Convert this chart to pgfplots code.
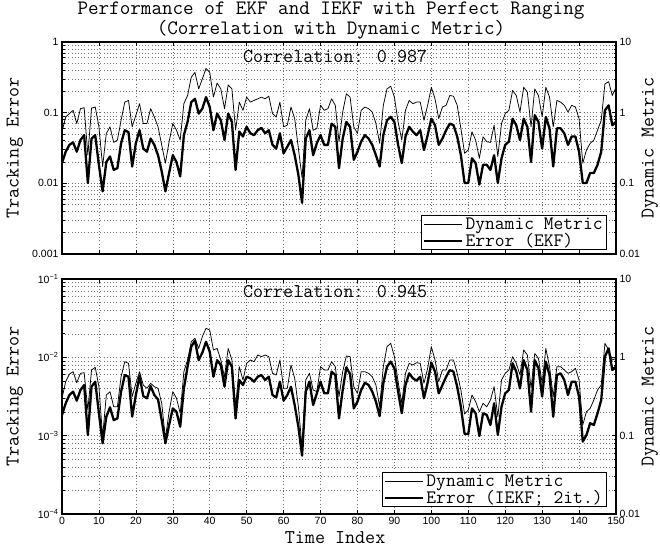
\documentclass[border=0pt]{standalone}
\usepackage{fontspec}
\setmainfont{Liberation Sans}
\usepackage{pgfplots}
\usepackage{pgfplotstable}
\pgfplotsset{compat=1.18}

\pgfplotstableread{
t err met
0 0.0193 0.536
1 0.028 0.870
2 0.035 0.968
3 0.038 1.08
4 0.028 0.701
5 0.041 1.14
6 0.048 1.175
7 0.0101 0.252
8 0.043 1.16
9 0.048 1.20
10 0.018 0.63
11 0.0077 0.173
12 0.020 0.508
13 0.024 0.63
14 0.0155 0.379
15 0.0164 0.409
16 0.037 0.781
17 0.0565 1.41
18 0.053 1.49
19 0.0173 0.63
20 0.037 0.918
21 0.0565 1.34
22 0.031 0.701
23 0.028 0.701
24 0.043 1.14
25 0.035 0.87
26 0.025 0.63
27 0.0147 0.348
28 0.0077 0.193
29 0.014 0.388
30 0.025 0.701
31 0.020 0.565
32 0.0125 0.409
33 0.048 1.34
34 0.074 1.75
35 0.141 3.16
36 0.157 3.72
37 0.097 2.17
38 0.114 3.0
39 0.166 4.23
40 0.120 3.72
41 0.0565 1.66
42 0.097 2.63
43 0.078 2.17
44 0.041 1.14
45 0.097 2.47
46 0.074 2.17
47 0.0155 0.565
48 0.054 1.41
49 0.046 1.08
50 0.063 1.66
51 0.051 1.41
52 0.048 1.49
53 0.0565 1.57
54 0.061 1.66
55 0.051 1.57
56 0.0565 1.71
57 0.035 0.968
58 0.031 0.87
59 0.051 1.41
60 0.0266 0.63
61 0.033 0.665
62 0.041 1.20
63 0.025 0.824
64 0.0132 0.313
65 0.0053 0.119
66 0.043 0.781
67 0.0565 1.14
68 0.025 0.565
69 0.037 0.597
70 0.048 1.27
71 0.035 1.08
72 0.035 1.14
73 0.070 1.57
74 0.063 1.27
75 0.0164 0.388
76 0.043 1.02
77 0.074 1.85
78 0.063 1.66
79 0.0215 0.63
80 0.028 0.508
81 0.039 1.08
82 0.048 1.20
83 0.043 1.14
84 0.035 1.02
85 0.025 0.701
86 0.0173 0.368
87 0.048 1.27
88 0.078 2.17
89 0.087 2.37
90 0.074 1.66
91 0.035 0.74
92 0.0193 0.409
93 0.046 1.08
94 0.063 1.49
95 0.054 1.34
96 0.048 1.41
97 0.0565 1.41
98 0.0296 0.781
99 0.048 1.27
100 0.082 2.29
101 0.0665 1.57
102 0.035 0.824
103 0.043 1.20
104 0.0565 1.27
105 0.070 1.75
106 0.0665 1.71
107 0.046 1.27
108 0.025 0.597
109 0.0101 0.266
110 0.0101 0.296
111 0.0226 0.536
112 0.0193 0.409
113 0.0096 0.226
114 0.0183 0.456
115 0.0183 0.388
116 0.0155 0.379
117 0.025 0.665
118 0.0101 0.239
119 0.0226 0.701
120 0.035 0.968
121 0.039 1.08
122 0.082 2.06
123 0.0665 1.75
124 0.041 1.02
125 0.082 2.29
126 0.063 1.95
127 0.020 0.63
128 0.092 2.17
129 0.074 1.75
130 0.031 0.87
131 0.087 2.29
132 0.060 1.66
133 0.0173 0.63
134 0.060 1.49
135 0.060 1.41
136 0.051 1.27
137 0.035 1.02
138 0.046 1.27
139 0.046 1.20
140 0.028 0.824
141 0.0101 0.193
142 0.0101 0.296
143 0.014 0.368
144 0.014 0.409
145 0.0183 0.565
146 0.028 0.781
147 0.108 2.55
148 0.127 2.75
149 0.0665 1.75
150 0.074 2.29
}\topdata

\pgfplotstableread{
t err met
0 0.00184 0.300
1 0.00259 0.489
2 0.00330 0.61
3 0.00365 0.656
4 0.0028 0.475
5 0.00383 0.625
6 0.00443 0.637
7 0.00102 0.212
8 0.00422 0.689
9 0.00489 0.745
10 0.00193 0.422
11 0.00080 0.097
12 0.00175 0.330
13 0.0023 0.365
14 0.00158 0.234
15 0.00166 0.234
16 0.00365 0.566
17 0.00594 0.88
18 0.00566 0.838
19 0.00175 0.315
20 0.0033 0.466
21 0.00578 0.656
22 0.0032 0.443
23 0.0030 0.402
24 0.0043 0.466
25 0.0033 0.422
26 0.0029 0.402
27 0.00158 0.259
28 0.00080 0.0925
29 0.00137 0.202
30 0.00223 0.365
31 0.00202 0.30
32 0.0013 0.193
33 0.0040 0.656
34 0.0076 0.925
35 0.0137 1.585
36 0.0163 1.75
37 0.0092 1.30
38 0.0115 1.84
39 0.0158 2.35
40 0.0118 2.23
41 0.00566 1.24
42 0.0092 1.30
43 0.00798 0.925
44 0.00422 0.566
45 0.0092 1.30
46 0.0076 0.925
47 0.00166 0.234
48 0.00514 0.76
49 0.00443 0.514
50 0.00566 0.838
51 0.0054 0.925
52 0.00489 0.88
53 0.00566 1.07
54 0.00594 1.02
55 0.00514 1.07
56 0.00566 1.02
57 0.0033 0.625
58 0.00308 0.595
59 0.00489 0.925
60 0.0028 0.402
61 0.0033 0.402
62 0.00422 0.798
63 0.00246 0.54
64 0.0013 0.234
65 0.000556 0.072
66 0.00365 0.514
67 0.00489 0.625
68 0.00246 0.383
69 0.00347 0.365
70 0.00489 0.76
71 0.00347 0.689
72 0.00347 0.689
73 0.00656 0.88
74 0.00594 0.76
75 0.00166 0.315
76 0.00383 0.656
77 0.00745 1.04
78 0.00612 1.02
79 0.00223 0.422
80 0.00272 0.347
81 0.00383 0.656
82 0.00475 0.656
83 0.00443 0.625
84 0.00365 0.566
85 0.00272 0.443
86 0.00178 0.234
87 0.00466 0.76
88 0.0076 1.37
89 0.00881 1.51
90 0.00724 1.02
91 0.00365 0.489
92 0.00193 0.259
93 0.00443 0.625
94 0.00625 0.838
95 0.0054 0.798
96 0.00504 0.855
97 0.00566 0.838
98 0.0030 0.466
99 0.00475 0.724
100 0.00855 1.37
101 0.00656 0.925
102 0.00347 0.489
103 0.00443 0.689
104 0.00566 0.689
105 0.00689 0.925
106 0.00656 0.925
107 0.00422 0.625
108 0.00234 0.383
109 0.00105 0.189
110 0.00105 0.213
111 0.00223 0.33
112 0.00193 0.272
113 0.00099 0.202
114 0.00193 0.259
115 0.00184 0.234
116 0.00137 0.285
117 0.00259 0.422
118 0.00102 0.174
119 0.00234 0.514
120 0.00347 0.625
121 0.00383 0.689
122 0.00838 1.02
123 0.00656 0.838
124 0.0040 0.595
125 0.0092 1.24
126 0.00689 1.07
127 0.00202 0.402
128 0.0092 1.12
129 0.00724 0.971
130 0.00315 0.466
131 0.00881 1.30
132 0.00594 0.76
133 0.00175 0.315
134 0.00594 0.76
135 0.00625 0.76
136 0.00514 0.689
137 0.0033 0.625
138 0.00489 0.656
139 0.00489 0.724
140 0.00315 0.514
141 0.00084 0.137
142 0.00102 0.202
143 0.00144 0.223
144 0.00137 0.285
145 0.00193 0.383
146 0.00285 0.443
147 0.0102 1.51
148 0.0130 1.24
149 0.00689 0.925
150 0.0076 0.971
}\botdata

\pgfplotsset{
  every axis/.append style={
    scale only axis, width=554pt, xmin=0, xmax=150,
    tick align=inside, axis line style={line width=1.1pt},
    major tick length=4.5pt, minor tick length=2.5pt,
    tick style={black, line width=0.6pt},
    tick label style={font=\fontsize{10.5}{10.5}\selectfont},
    /pgf/number format/assume math mode=true,
    label style={font=\ttfamily\fontsize{19.5}{19.5}\selectfont},
    legend cell align=left,
    legend style={font=\ttfamily\fontsize{19}{19}\selectfont, draw=black, line width=1.1pt,
      inner xsep=2pt, inner ysep=1.5pt, row sep=2pt,
      nodes={inner ysep=0.3pt, inner xsep=2pt}},
  },
}

\begin{document}
\begin{tikzpicture}
\path[use as bounding box] (0pt,0pt) rectangle (660pt,548pt);
\node[font=\ttfamily\fontsize{20.5}{20.5}\selectfont, anchor=base, inner sep=0pt] at (331pt,533pt)
  {Performance of EKF and IEKF with Perfect Ranging};
\node[font=\ttfamily\fontsize{20.5}{20.5}\selectfont, anchor=base, inner sep=0pt] at (331pt,513pt)
  {(Correlation with Dynamic Metric)};

% ---- top ----
\begin{axis}[at={(62pt,294pt)}, anchor=south west, height=212pt, ymode=log,
  ymin=0.001, ymax=1, ytick={0.001,0.01,0.1,1}, yticklabels={0.001,0.01,0.1,1},
  ytick pos=left, xtick={0,10,...,150}, xticklabels={},
  grid=both,
  major grid style={black!55, line width=0.5pt, dash pattern=on 0.8pt off 2.4pt},
  minor grid style={black!55, line width=0.5pt, dash pattern=on 0.8pt off 2.4pt},
  ylabel={Tracking Error},
  ylabel style={at={(axis description cs:-0.085,0.5)}, anchor=center}]
\addplot[black, line width=2.3pt, line join=round] table[x=t,y=err] {\topdata};
\end{axis}
\begin{axis}[at={(62pt,294pt)}, anchor=south west, height=212pt, ymode=log,
  ytick pos=right, xtick=\empty,
  ymin=0.01, ymax=10, ytick={0.01,0.1,1,10}, yticklabels={0.01,0.1,1,10},
  ylabel={Dynamic Metric},
  ylabel style={at={(axis description cs:1.061,0.5)}, anchor=center},
  legend style={at={(0.984,0.017)}, anchor=south east},
  legend image code/.code={\draw[#1] (0pt,0pt) -- (38pt,0pt);}]
\addplot[black, line width=0.75pt, line join=round] table[x=t,y=met] {\topdata};
\addlegendentry{Dynamic Metric}
\addlegendimage{black, line width=2.3pt}
\addlegendentry{Error (EKF)}
\node[font=\ttfamily\fontsize{19.5}{19.5}\selectfont] at (axis description cs:0.493,0.933) {Correlation: 0.987};
\end{axis}

% ---- bottom ----
\begin{axis}[at={(62pt,34pt)}, anchor=south west, height=235pt, ymode=log,
  ymin=0.0001, ymax=0.1, ytick={0.0001,0.001,0.01,0.1},
  yticklabels={10\textsuperscript{−4},10\textsuperscript{−3},10\textsuperscript{−2},10\textsuperscript{−1}},
  ytick pos=left, xtick={0,10,...,150},
  grid=both,
  major grid style={black!55, line width=0.5pt, dash pattern=on 0.8pt off 2.4pt},
  minor grid style={black!55, line width=0.5pt, dash pattern=on 0.8pt off 2.4pt},
  xlabel={Time Index}, ylabel={Tracking Error},
  ylabel style={at={(axis description cs:-0.085,0.5)}, anchor=center},
  xlabel style={at={(axis description cs:0.493,-0.102)}, anchor=center}]
\addplot[black, line width=2.3pt, line join=round] table[x=t,y=err] {\botdata};
\end{axis}
\begin{axis}[at={(62pt,34pt)}, anchor=south west, height=235pt, ymode=log,
  ytick pos=right, xtick=\empty,
  ymin=0.01, ymax=10, ytick={0.01,0.1,1,10}, yticklabels={0.01,0.1,1,10},
  ylabel={Dynamic Metric},
  ylabel style={at={(axis description cs:1.061,0.5)}, anchor=center},
  legend style={at={(0.984,0.028)}, anchor=south east},
  legend image code/.code={\draw[#1] (0pt,0pt) -- (38pt,0pt);}]
\addplot[black, line width=0.75pt, line join=round] table[x=t,y=met] {\botdata};
\addlegendentry{Dynamic Metric}
\addlegendimage{black, line width=2.3pt}
\addlegendentry{Error (IEKF; 2it.)}
\node[font=\ttfamily\fontsize{19.5}{19.5}\selectfont] at (axis description cs:0.493,0.945) {Correlation: 0.945};
\end{axis}
\end{tikzpicture}
\end{document}
